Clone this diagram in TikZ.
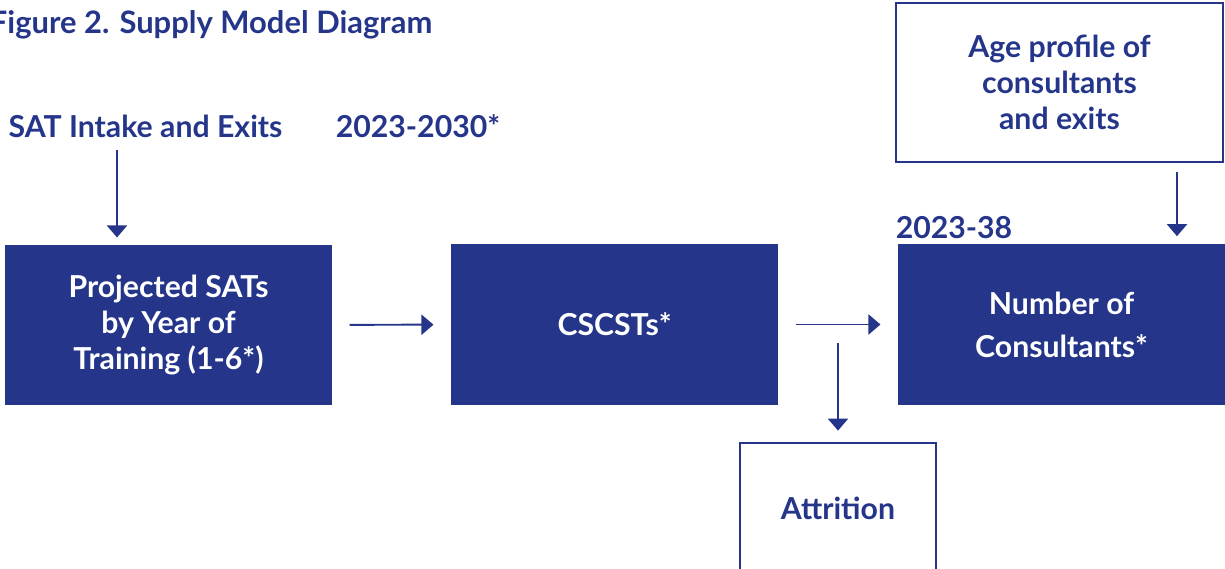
\documentclass[tikz,border=0pt]{standalone}
\usepackage{fontspec}
\setmainfont{Lato}
\usetikzlibrary{arrows.meta}
\definecolor{navy}{HTML}{25368A}
\tikzset{
  lab/.style={text=navy, font=\bfseries\fontsize{21.5}{25}\selectfont},
  fillbox/.style={fill=navy, text=white, align=center, inner sep=0pt,
    minimum width=8.175cm, minimum height=4cm, font=\bfseries\fontsize{21.5}{25.5}\selectfont},
  linebox/.style={draw=navy, line width=1.6pt, text=navy, align=center, inner sep=0pt,
    font=\bfseries\fontsize{21.5}{25.5}\selectfont},
  flow/.style={draw=navy, line width=1.4pt, -{Triangle[width=0.5cm,length=0.3cm]}}
}

\begin{document}
\begin{tikzpicture}[x=0.025cm,y=-0.025cm]
\useasboundingbox (0,0) rectangle (1225,569);
% headings
\node[lab, anchor=west, font=\bfseries\fontsize{22}{25}\selectfont] (title) at (-15,25) {Figure 2. Supply Model Diagram};
\node[lab] (intake) at (145.5,126) {SAT Intake and Exits};
\node[lab] (period) at (418,126) {2023-2030*};
\node[lab] (horizon) at (954,228) {2023-38};

% main boxes
\node[fillbox] (sat) at (168.5,325) {Projected SATs\\by Year of\\Training (1-6*)};
\node[fillbox] (cscst) at (614.5,324.5) {CSCSTs*};
\node[fillbox, font=\bfseries\fontsize{21.5}{30.5}\selectfont] (cons) at (1061.5,324.5) {Number of\\Consultants*};

% outline boxes
\node[linebox, minimum width=8.175cm, minimum height=3.975cm] (age) at (1059.5,82.5) {Age profile of\\consultants\\and exits};
\node[linebox, minimum width=4.9cm, minimum height=3.25cm] (attr) at (838,508) {Attrition};

% arrows
\coordinate (in) at (117,150);
\coordinate (split) at (838,343);
\coordinate (ageout) at (1177,172);
\draw[flow, shorten >=0.18cm] (in) -- (in |- sat.north);
\draw[flow, shorten <=0.43cm, shorten >=0.43cm] (sat) -- (cscst);
\draw[flow, shorten <=0.43cm, shorten >=0.43cm] (cscst) -- (cons);
\draw[flow, shorten >=0.28cm] (split) -- (attr.north);
\draw[flow, shorten >=0.2cm] (ageout) -- (ageout |- cons.north);
\end{tikzpicture}
\end{document}
